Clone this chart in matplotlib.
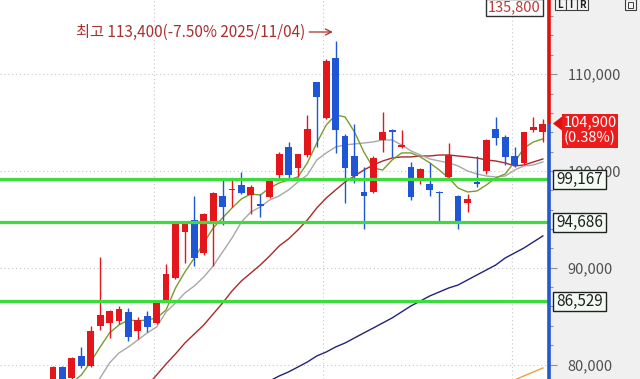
import numpy as np
import matplotlib
matplotlib.use("Agg")
import matplotlib.pyplot as plt
from matplotlib.patches import Rectangle, Polygon

plt.rcParams['font.family'] = ['Noto Sans CJK KR', 'DejaVu Sans']

# ---------------- data ----------------
opens = [77900, 79800, 78600, 80900, 79900, 84000, 84300, 84500, 85400, 83500,
         85000, 84300, 86700, 88900, 93700, 94900, 91500, 94700, 97400, 98000,
         98600, 97500, 96600, 97300, 99600, 102500, 100300, 101700, 109200, 105500,
         111700, 103600, 101500, 97800, 97800, 103200, 104200, 102500, 100400, 99100,
         98700, 97800, 99400, 97400, 96700, 98800, 100000, 104300, 103500, 101500,
         100800, 104200, 104000]
highs = [79900, 79900, 80800, 81800, 84000, 91100, 85600, 86100, 85800, 84900,
         85500, 86600, 90400, 94700, 94700, 97400, 95700, 97800, 99100, 99100,
         99900, 98600, 97600, 99100, 102000, 103000, 101800, 105800, 109200, 111600,
         113400, 103800, 104800, 100400, 101500, 106100, 104300, 104200, 100900, 100300,
         100800, 97900, 102900, 97500, 97600, 101500, 103300, 105600, 103700, 102500,
         104000, 105600, 105400]
lows = [77600, 78200, 78400, 79600, 79800, 83600, 82700, 84200, 82400, 82600,
        83400, 84200, 86500, 88800, 90500, 90200, 91300, 90200, 94400, 96300,
        97600, 95600, 95200, 97200, 99300, 99300, 99400, 101400, 102500, 105400,
        101900, 96700, 98800, 94000, 97700, 102000, 101400, 102400, 97000, 98700,
        97400, 94600, 99300, 94000, 95800, 98300, 99700, 102700, 100600, 100400,
        100600, 104000, 103000]
closes = [79800, 78500, 80700, 79900, 83500, 85100, 85500, 85700, 82900, 84600,
          83900, 86500, 89400, 94600, 94600, 91000, 95600, 97700, 96300, 98100,
          97700, 98300, 96400, 99000, 101800, 99600, 101800, 104300, 107600, 111400,
          104200, 100300, 99500, 97400, 101300, 104000, 104000, 102700, 97300, 100200,
          98000, 97700, 101700, 94700, 97100, 98700, 103200, 103400, 101400, 100600,
          104000, 104500, 104900]

nan = np.nan
ma5 = [nan, nan, 78100, 78930, 80270, 81820, 83270, 84090, 84610, 84510,
       84610, 84820, 85640, 87910, 89570, 91010, 92560, 94110, 95150, 96180,
       97110, 97620, 97520, 98240, 98760, 99070, 99380, 100830, 102890, 104750,
       105790, 105580, 104030, 101960, 100300, 100100, 101140, 101860, 101860, 101450,
       100830, 100100, 99280, 98240, 97830, 97930, 98550, 99280, 99690, 100930,
       102380, 103000, 103310]
ma10 = [nan, nan, nan, nan, 77300, 78620, 80170, 81200, 81820, 82540,
        83270, 83890, 85440, 86360, 87400, 88120, 89050, 90190, 91630, 93080,
        94730, 95770, 96280, 97000, 97420, 98040, 98860, 99590, 101140, 101860,
        102480, 102690, 102790, 102890, 103000, 103200, 103200, 102690, 102070, 101650,
        101240, 101030, 100830, 100520, 100000, 99690, 99480, 99380, 99480, 100100,
        100520, 100620, 100930]
ma20 = [nan, nan, nan, nan, nan, nan, nan, nan, nan, nan,
        77800, 78930, 80060, 81100, 82230, 83160, 84090, 85230, 86360, 87600,
        88640, 89460, 90290, 91220, 92250, 92980, 93910, 94940, 96180, 97210,
        98040, 98860, 99480, 100100, 100620, 101030, 101340, 101450, 101450, 101550,
        101550, 101650, 101650, 101550, 101450, 101340, 101140, 101030, 100830, 100520,
        100620, 100930, 101240]
ma60 = [nan] * 22 + [77800, 78310, 78820, 79240, 79750, 80270, 80890, 81300,
                     81820, 82230, 82750, 83270, 83780, 84300, 84820, 85440, 86060, 86570,
                     87090, 87500, 87910, 88220, 88740, 89260, 89770, 90290, 91010, 91530,
                     92050, 92670, 93290]
ma120 = [nan] * 48 + [78100, 78410, 78830, 79240, 79650]

support_levels = [99167, 94686, 86529]
y_ticks = [80000, 90000, 100000, 110000]
last_price = 104900
change_pct = 0.38
upper_limit = 135800
peak_note = "최고 113,400(-7.50% 2025/11/04)"
month_grid = [10.75, 28.7, 48.7]

# ---------------- layout ----------------
W, H = 640, 379
YMIN, YMAX = 78510, 117660
AX_RIGHT = 549

fig = plt.figure(figsize=(W / 100, H / 100), dpi=100)
fig.patch.set_facecolor('#f0f0f0')
ax = fig.add_axes([0, 0, AX_RIGHT / W, 1])
ax.set_facecolor('white')

n = len(closes)
x = np.arange(n)
o = np.array(opens, float)
c = np.array(closes, float)
hi = np.array(highs, float)
lo = np.array(lows, float)

ax.set_xlim(-5.63, 52.65)
ax.set_ylim(YMIN, YMAX)

RED = '#e3161b'
BLUE = '#1e56d6'
cols = np.where(c >= o, RED, BLUE)

# grid
ax.set_xticks(month_grid)
ax.set_xticklabels([])
ax.tick_params(axis='x', length=0)
ax.grid(True, color='#c8c8c8', lw=0.8, linestyle=(0, (1, 2.5)), zorder=0)
ax.set_axisbelow(True)

# moving averages
ax.plot(x, ma120, color='#f0a040', lw=1.0, zorder=2)
ax.plot(x, ma60, color='#22227a', lw=1.0, zorder=2)
ax.plot(x, ma20, color='#a82a2a', lw=1.0, zorder=2)
ax.plot(x, ma10, color='#a8a8a8', lw=1.0, zorder=2)
ax.plot(x, ma5, color='#7a9c2e', lw=1.0, zorder=2)

# candles
ax.vlines(x, lo, hi, colors=cols, lw=1.0, zorder=3)
bottoms = np.minimum(o, c)
heights = np.maximum(np.abs(c - o), 150)
ax.bar(x, heights, width=0.72, bottom=bottoms, color=cols, lw=0, zorder=4)

# support lines
for lv in support_levels:
    ax.axhline(lv, color='#3ddc3d', lw=2.3, zorder=5)

# right axis line (red above current price, blue below)
trans = matplotlib.transforms.blended_transform_factory(ax.transAxes, ax.transData)
ax.plot([1.0, 1.0], [last_price, YMAX], transform=trans, color='#e01010', lw=2.6,
        clip_on=False, zorder=10, solid_capstyle='butt')
ax.plot([1.0, 1.0], [YMIN, last_price], transform=trans, color='#2457d0', lw=2.6,
        clip_on=False, zorder=10, solid_capstyle='butt')

for s in ax.spines.values():
    s.set_visible(False)

ax.yaxis.tick_right()
ax.set_yticks(y_ticks)
ax.set_yticklabels([f"{v:,}" for v in y_ticks])
ax.set_yticks(np.arange(80000, 117000, 2000), minor=True)
ax.tick_params(axis='y', which='major', length=6, width=0.8, color='#909090',
               pad=7.5, labelsize=10.5, labelcolor='#505050')
ax.tick_params(axis='y', which='minor', length=3, width=0.8, color='#909090')

# peak annotation
peak_idx = int(np.argmax(hi))
ax.annotate(peak_note, xy=(peak_idx - 0.3, 1 - 32 / H), xycoords=('data', 'axes fraction'),
            xytext=(-20, 0), textcoords='offset points', ha='right', va='center',
            fontsize=11, color='#a83030',
            arrowprops=dict(arrowstyle='->', color='#a83030', lw=0.9,
                            shrinkA=1, shrinkB=0))


# ---------------- right panel labels ----------------
def py(price):
    return (YMAX - price) / (YMAX - YMIN) * H


def rect_px(x0, y0, x1, y1, **kw):
    fig.add_artist(Rectangle((x0 / W, 1 - y1 / H), (x1 - x0) / W, (y1 - y0) / H,
                             transform=fig.transFigure, **kw))


def text_px(xp, yp, s, **kw):
    fig.text(xp / W, 1 - yp / H, s, **kw)


for lv in support_levels:
    yc = py(lv)
    rect_px(553, yc - 9.5, 606, yc + 9.5, facecolor='#f4fbf4', edgecolor='#202020',
            lw=1.0, zorder=20)
    text_px(579.5, yc, f"{lv:,}", ha='center', va='center', fontsize=11,
            color='#202020', zorder=21)

# current price marker
yc = py(last_price)
fig.add_artist(Polygon([(553 / W, 1 - yc / H), (562 / W, 1 - (yc - 7) / H),
                        (562 / W, 1 - (yc + 7) / H)], closed=True,
                       transform=fig.transFigure, facecolor='#e01010', lw=0, zorder=20))
rect_px(562, yc - 10, 618, yc + 24, facecolor='#ec1c1c', edgecolor='none', zorder=20)
text_px(590, yc - 1.5, f"{last_price:,}", ha='center', va='center', fontsize=10.5,
        color='white', zorder=21)
text_px(590, yc + 14.5, f"({change_pct:.2f}%)", ha='center', va='center', fontsize=10.5,
        color='white', zorder=21)

# upper limit box
rect_px(486, -1, 543, 16, facecolor='white', edgecolor='#303030', lw=1.0, zorder=20)
text_px(514.5, 7.5, f"{upper_limit:,}", ha='center', va='center', fontsize=10.5,
        color='#c03838', zorder=21)

# L I R buttons and icon
for k, lab in enumerate(["L", "I", "R"]):
    x0 = 555 + k * 11
    rect_px(x0, -1, x0 + 10.5, 10, facecolor='#f4f4f4', edgecolor='#404040', lw=0.8, zorder=20)
    text_px(x0 + 5.25, 4.5, lab, ha='center', va='center', fontsize=7, color='#202020',
            fontweight='bold', zorder=21)
rect_px(625, -1, 636, 10, facecolor='#f4f4f4', edgecolor='#404040', lw=0.8, zorder=20)
rect_px(628, 2, 633, 8, facecolor='none', edgecolor='#404040', lw=0.7, zorder=21)

fig.savefig('out.png', dpi=100, facecolor=fig.get_facecolor())
